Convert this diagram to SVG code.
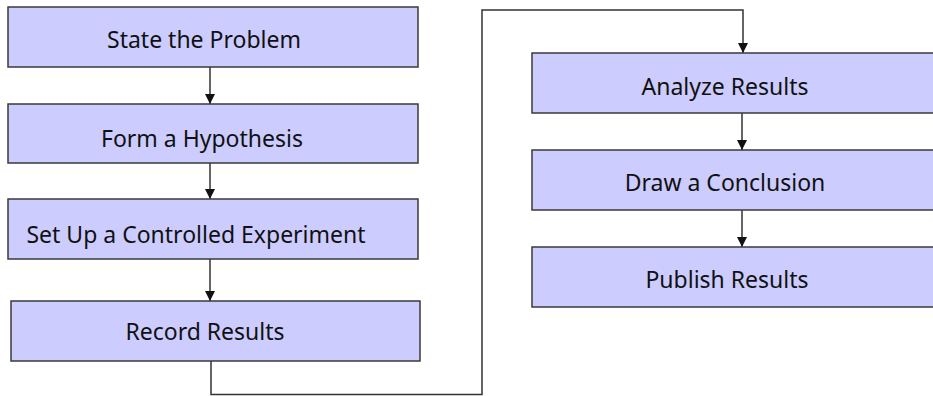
<svg xmlns="http://www.w3.org/2000/svg" width="933" height="396" viewBox="0 0 933 396">
<style>
.box{fill:#ccccff;stroke:#3a3a3a;stroke-width:1.5}
.lbl{font-family:"Noto Sans","Open Sans",sans-serif;font-size:23px;fill:#111;text-anchor:middle}
.conn{fill:none;stroke:#333;stroke-width:1.5}
</style>
<defs>
<marker id="ah" viewBox="0 0 10 10" refX="10" refY="5" markerWidth="10" markerHeight="10" markerUnits="userSpaceOnUse" orient="auto">
<path d="M0,0 L10,5 L0,10 z" fill="#111"/>
</marker>
</defs>
<g id="connectors">
<line class="conn" x1="210" y1="67" x2="210" y2="104" marker-end="url(#ah)"/>
<line class="conn" x1="210" y1="163" x2="210" y2="199" marker-end="url(#ah)"/>
<line class="conn" x1="210" y1="259" x2="210" y2="301" marker-end="url(#ah)"/>
<polyline class="conn" points="211,361 211,394.5 482,394.5 482,10 743,10 743,53" marker-end="url(#ah)"/>
<line class="conn" x1="742" y1="113" x2="742" y2="150" marker-end="url(#ah)"/>
<line class="conn" x1="742" y1="210" x2="742" y2="247" marker-end="url(#ah)"/>
</g>
<g id="n1"><rect class="box" x="8" y="7" width="410" height="60"/><text class="lbl" x="204" y="48">State the Problem</text></g>
<g id="n2"><rect class="box" x="8" y="104" width="410" height="59"/><text class="lbl" x="202" y="147">Form a Hypothesis</text></g>
<g id="n3"><rect class="box" x="8" y="199" width="410" height="60"/><text class="lbl" x="196" y="243">Set Up a Controlled Experiment</text></g>
<g id="n4"><rect class="box" x="11" y="301" width="409" height="60"/><text class="lbl" x="205" y="340">Record Results</text></g>
<g id="n5"><rect class="box" x="532" y="53" width="410" height="60"/><text class="lbl" x="725" y="95">Analyze Results</text></g>
<g id="n6"><rect class="box" x="532" y="150" width="410" height="60"/><text class="lbl" x="725" y="191">Draw a Conclusion</text></g>
<g id="n7"><rect class="box" x="532" y="247" width="410" height="60"/><text class="lbl" x="727" y="288">Publish Results</text></g>
</svg>
